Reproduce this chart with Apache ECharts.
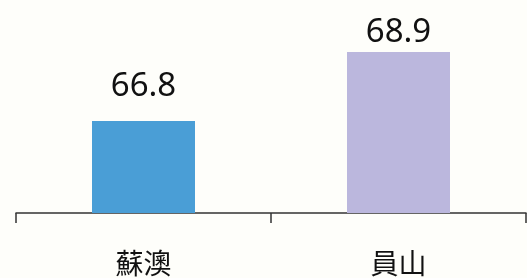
<!DOCTYPE html>
<html>
<head>
<meta charset="utf-8">
<script src="https://cdn.jsdelivr.net/npm/echarts@6/dist/echarts.min.js"></script>
<style>
  html, body { margin: 0; padding: 0; background: #fefefa; }
  #main { width: 527px; height: 278px; }
</style>
</head>
<body>
<div id="main"></div>
<script>
var towns = ['蘇澳', '員山'];
var values = [66.8, 68.9];
var barColors = ['#4a9ed6', '#bbb7dd'];
var labelGaps = [18, 3];

var myChart = echarts.init(document.getElementById('main'), null, { renderer: 'canvas' });
var option = {
  backgroundColor: '#fefefa',
  animation: false,
  grid: { left: 16, right: 1, top: 16, bottom: 65 },
  xAxis: {
    type: 'category',
    data: towns,
    axisLine: { lineStyle: { color: '#333', width: 1.5 } },
    axisTick: { show: true, length: 10, lineStyle: { color: '#333', width: 1.5 } },
    axisLabel: {
      color: '#111',
      fontSize: 28,
      margin: 36,
      fontFamily: 'Noto Sans CJK TC'
    }
  },
  yAxis: {
    type: 'value',
    min: 64,
    max: 70,
    show: false,
    splitLine: { show: false }
  },
  series: [
    {
      type: 'bar',
      barWidth: 103,
      data: values.map(function (v, i) {
        return {
          value: v,
          itemStyle: { color: barColors[i] },
          label: { distance: labelGaps[i] }
        };
      }),
      label: {
        show: true,
        position: 'top',
        color: '#111',
        fontSize: 33,
        fontFamily: 'Noto Sans'
      }
    }
  ]
};
myChart.setOption(option);
</script>
</body>
</html>
